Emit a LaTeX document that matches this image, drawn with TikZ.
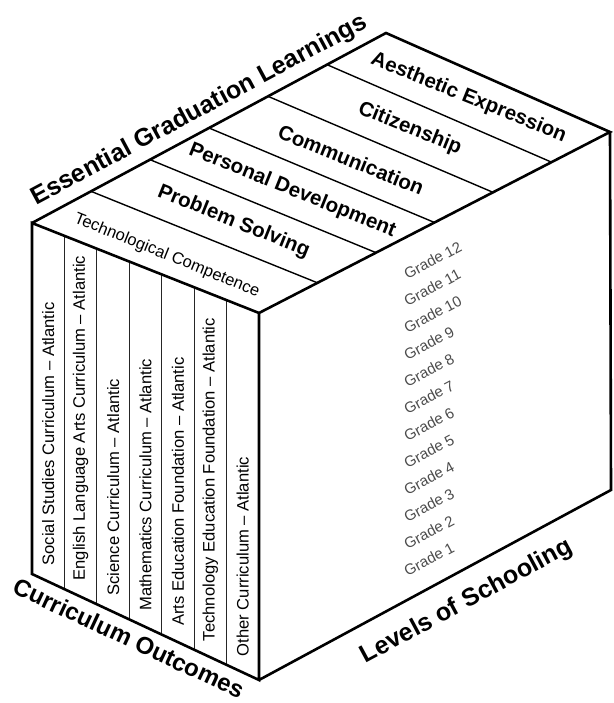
\documentclass[tikz,border=0pt]{standalone}
\usepackage{fontspec}
\setmainfont{Liberation Sans}
\usetikzlibrary{calc,positioning}

\begin{document}
\begin{tikzpicture} [x=1pt,y=1pt,{edge/.style={line width=2.6pt,line join=miter}},{band/.style={line width=1.4pt}},{colline/.style={line width=1.1pt,black!85}},{biglab/.style={font=\fontsize{25}{25}\selectfont\bfseries,inner sep=0pt}},{toplab/.style={font=\fontsize{20.5}{20.5}\selectfont\bfseries,rotate=-22,inner sep=0pt}},{collab/.style={font=\fontsize{16.6}{16.6}\selectfont,rotate=90,anchor=west,inner sep=0pt}},{gradelab/.style={font=\fontsize{15}{15}\selectfont,color=black!70,rotate=28,anchor=west,inner sep=0pt}}]
	\useasboundingbox (0,0) rectangle (613,703);
	%%corners of the block
	\coordinate (A) at (32,480);
	\coordinate (B) at (259,390);
	\coordinate (C) at (259,23);
	\coordinate (D) at (32,129);
	\coordinate (E) at (386,670);
	\coordinate (F) at (610,571);
	\coordinate (G) at (611,213);
	%%bands on top face
	\foreach \i in {1,...,5}
		\draw [band] ($(A)!\i/6!(E)$) -- ($(B)!\i/6!(F)$);
	%%columns on front face
	\foreach \i in {1,...,6}
		\draw [colline] ($(A)!\i/7!(B)$) -- ($(D)!\i/7!(C)$);
	%%block
	\draw [edge] (A)--(B)--(C)--(D)--cycle (A)--(E)--(F)--(B) (F)--(G)--(C);
	%%axis names
	\path (A) -- (E) node [biglab,midway,sloped,above=8pt] (egl) {Essential Graduation Learnings};
	\path (D) -- (C) node [biglab,font=\fontsize{24}{24}\selectfont\bfseries,pos=0.46,sloped,below=8pt] (co) {Curriculum Outcomes};
	\path (C) -- (G) node [biglab,pos=0.55,sloped,below=18pt] (los) {Levels of Schooling};
	%%graduation learnings
	\node [toplab,font=\fontsize{16.5}{16.5}\selectfont] (tc) at ($($(A)!1/12!(E)$)!0.5!($(B)!1/12!(F)$)+(-8,-3)$) {Technological Competence};
	\node [toplab] (ps) at ($($(A)!3/12!(E)$)!0.5!($(B)!3/12!(F)$)$) {Problem Solving};
	\node [toplab] (pd) at ($($(A)!5/12!(E)$)!0.5!($(B)!5/12!(F)$)$) {Personal Development};
	\node [toplab] (cm) at ($($(A)!7/12!(E)$)!0.5!($(B)!7/12!(F)$)$) {Communication};
	\node [toplab] (cz) at ($($(A)!9/12!(E)$)!0.5!($(B)!9/12!(F)$)$) {Citizenship};
	\node [toplab] (ae) at ($($(A)!11/12!(E)$)!0.5!($(B)!11/12!(F)$)$) {Aesthetic Expression};
	%%curriculum outcomes
	\foreach \i/\txt in {1/Social Studies Curriculum,2/English Language Arts Curriculum,3/Science Curriculum,4/Mathematics Curriculum,5/Arts Education Foundation,6/Technology Education Foundation,7/Other Curriculum}
		\node [collab] (c\i) at ($($(D)!\i/7-1/14!(C)$)+(0,16)$) {\txt\ \textendash\ Atlantic};
	%%levels
	\foreach \g in {1,...,12}
		\node [gradelab] (g\g) at (405,{104+27*\g}) {Grade \g};
\end{tikzpicture}
\end{document}
